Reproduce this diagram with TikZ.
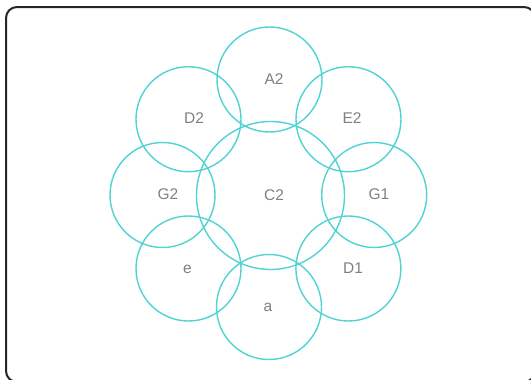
\documentclass[tikz,border=0pt]{standalone}
\usepackage{fontspec}
\setmainfont{Liberation Sans}
\definecolor{ringc}{HTML}{4FD3D3}
\definecolor{labc}{HTML}{808080}
\begin{document}
\begin{tikzpicture}[x=1pt,y=-1pt,
  ring/.style={circle,draw=ringc,line width=1.4pt,inner sep=0pt},
  lab/.style={text=labc,font=\fontsize{15.5}{17}\selectfont,inner sep=0pt},
  frame/.style={draw=black!85,line width=2pt,rounded corners=11pt}]
\useasboundingbox (0,0) rectangle (531,380);
\begin{scope}
\clip (0,0) rectangle (531,380);
\draw[frame] (6,7) rectangle (535,382);
\end{scope}
% circles
\node[ring,minimum size=148pt] (cC2) at (270.5,195.5) {};
\node[ring,minimum size=105pt] (cA2) at (269.5,79.5) {};
\node[ring,minimum size=105pt] (ca) at (269,307) {};
\node[ring,minimum size=105pt] (cG2) at (162.5,195) {};
\node[ring,minimum size=105pt] (cG1) at (374.2,195) {};
\node[ring,minimum size=105pt] (cD2) at (188.5,119.2) {};
\node[ring,minimum size=105pt] (cE2) at (348.5,119.2) {};
\node[ring,minimum size=105pt] (ce) at (188.5,268.5) {};
\node[ring,minimum size=105pt] (cD1) at (348.4,268.5) {};
% labels
\node[lab] (tC2) at (274,195) {C2};
\node[lab] (tA2) at (274,79.5) {A2};
\node[lab] (ta) at (268,307) {a};
\node[lab] (tG2) at (168,194.5) {G2};
\node[lab] (tG1) at (379,194.5) {G1};
\node[lab] (tD2) at (194,118.5) {D2};
\node[lab] (tE2) at (352,118.5) {E2};
\node[lab] (te) at (187.5,269.5) {e};
\node[lab] (tD1) at (353,268.5) {D1};
\end{tikzpicture}
\end{document}
